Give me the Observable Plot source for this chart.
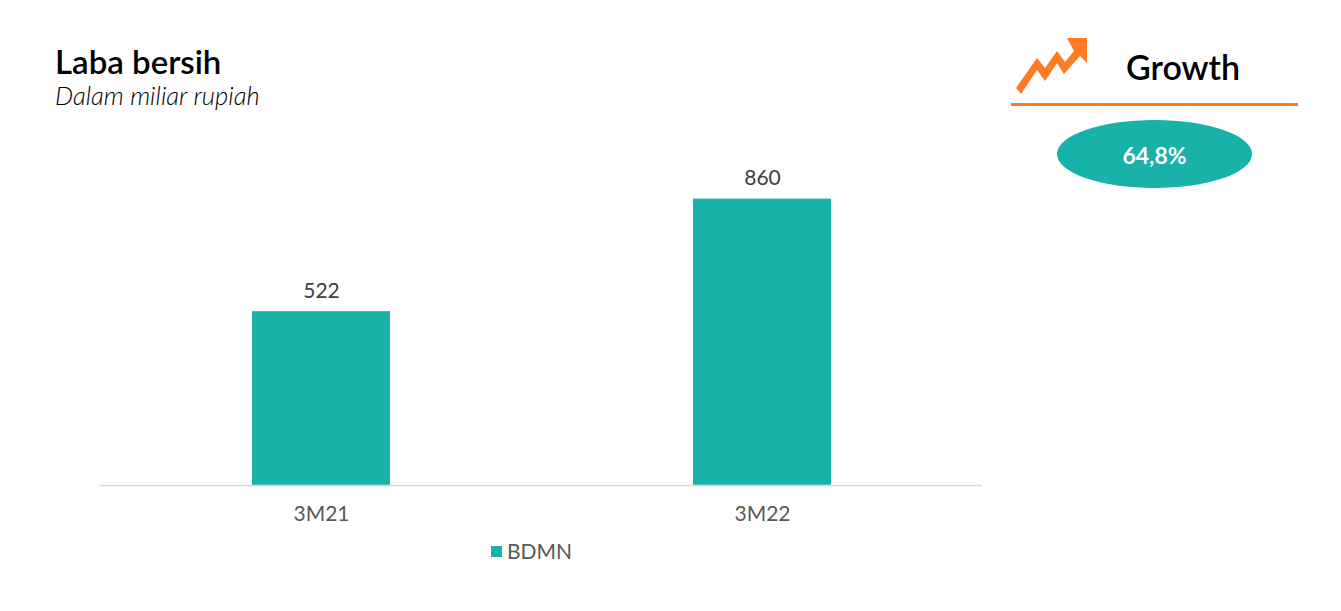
<!DOCTYPE html>
<html>
<head>
<meta charset="utf-8">
<script src="https://cdn.jsdelivr.net/npm/d3@7"></script>
<script src="https://cdn.jsdelivr.net/npm/@observablehq/plot@0.6"></script>
<style>
  html, body { margin: 0; padding: 0; background: #fff; overflow: hidden; }
  body { width: 1341px; height: 611px; position: relative; font-family: Lato, sans-serif; }
  #head { position: relative; height: 130px; }
  #title { position: absolute; left: 55px; top: 42px; font-size: 33px; line-height: 38px; font-weight: 600; color: #000; }
  #subtitle { position: absolute; left: 55px; top: 80px; font-size: 25.6px; line-height: 30px; font-style: italic; font-weight: 300; color: #000; }
  #chart svg { display: block; }
  #legend { position: absolute; left: 491px; top: 538px; font-size: 21px; line-height: 26px; color: #595959; display: flex; align-items: center; }
  #legend i { display: block; width: 11px; height: 11px; margin-right: 5px; }
  #growth { position: absolute; left: 1011px; top: 30px; width: 287px; height: 160px; }
  #growth svg { position: absolute; left: 0; top: 0; }
  #growth .label { position: absolute; left: 115px; top: 17px; font-size: 34px; line-height: 40px; font-weight: 600; color: #000; }
  #growth .rule { position: absolute; left: 0; top: 73px; width: 287px; height: 3px; background: #FF7A21; }
  #growth .pill { position: absolute; left: 46px; top: 90px; width: 195px; height: 68px; border-radius: 50%; color: #fff; font-size: 23px; font-weight: 700; text-align: center; line-height: 70px; }
</style>
</head>
<body>
<div id="head">
  <div id="title"></div>
  <div id="subtitle"></div>
</div>
<div id="chart"></div>
<div id="legend"></div>
<div id="growth">
  <svg width="90" height="70" viewBox="1011 30 90 70"><polygon fill="#FF7A21" points="1016,88 1037,58 1045,68 1057,51 1065,62 1074,51 1067,38 1087,38 1087,63 1080,56 1064,74 1057,63 1045,81 1037,70 1021,94"/></svg>
  <div class="label"></div>
  <div class="rule"></div>
  <div class="pill"></div>
</div>
<script>
const titleText = "Laba bersih";
const subtitleText = "Dalam miliar rupiah";
const seriesName = "BDMN";
const growthLabel = "Growth";
const growthValue = "64,8%";
const periods = ["3M21", "3M22"];
const values = [522, 860];
const teal = "#18B2AB";

document.getElementById("title").textContent = titleText;
document.getElementById("subtitle").textContent = subtitleText;
document.querySelector("#growth .label").textContent = growthLabel;
const pill = document.querySelector("#growth .pill");
pill.textContent = growthValue;
pill.style.background = teal;
const lg = document.getElementById("legend");
const sw = document.createElement("i");
sw.style.background = teal;
lg.appendChild(sw);
lg.appendChild(document.createTextNode(seriesName));

const rows = periods.map((p, i) => ({period: p, value: values[i]}));

const plot = Plot.plot({
  width: 1341,
  height: 400,
  marginLeft: 100,
  marginRight: 359,
  marginTop: 22,
  marginBottom: 45,
  style: {fontFamily: "Lato, sans-serif", background: "transparent"},
  x: {domain: periods, paddingInner: 0.687, paddingOuter: 0.3435, align: 0.502, label: null},
  y: {domain: [0, 1000], axis: null, label: null},
  marks: [
    Plot.barY(rows, {x: "period", y: "value", fill: teal}),
    Plot.ruleY([0], {stroke: "#d9d9d9", strokeWidth: 1.5}),
    Plot.axisX({tickSize: 0, tickPadding: 21, fontSize: 21, color: "#595959", label: null}),
    Plot.text(rows, {x: "period", y: "value", text: d => String(d.value), dy: -20.5, fontSize: 21, fill: "#404040"})
  ]
});
document.getElementById("chart").appendChild(plot);
</script>
</body>
</html>
